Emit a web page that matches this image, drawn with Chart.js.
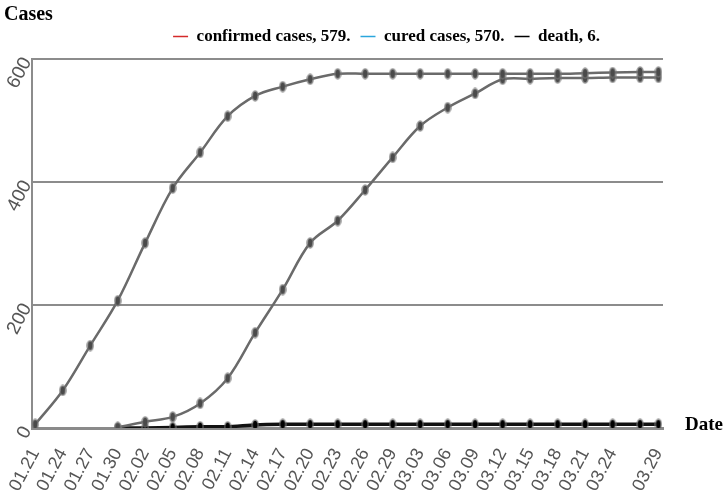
<!DOCTYPE html>
<html>
<head>
<meta charset="utf-8">
<script src="https://cdn.jsdelivr.net/npm/chart.js@4.4.0/dist/chart.umd.min.js"></script>
<style>
  html, body { margin: 0; padding: 0; background: #fff; }
</style>
</head>
<body>
<canvas id="chart" width="725" height="501"></canvas>
<script>
// days after 01.21 for every sample (3-day steps, last one only 2 days)
const dayOffsets = [0, 3, 6, 9, 12, 15, 18, 21, 24, 27, 30, 33, 36, 39, 42, 45, 48, 51, 54, 57, 60, 63, 66, 68];
const confirmed = [6, 61, 134, 207, 301, 390, 448, 507, 540, 555, 567, 576, 576, 576, 576, 576, 576, 576, 576, 576, 577, 578, 579, 579];
const cured = [null, null, null, 1, 10, 18, 40, 81, 155, 225, 301, 337, 387, 440, 491, 521, 544, 567, 568, 569, 569, 570, 570, 570];
const deaths = [null, null, null, 0, 0, 1, 2, 2, 5, 6, 6, 6, 6, 6, 6, 6, 6, 6, 6, 6, 6, 6, 6, 6];

const tickDays = [0, 3, 6, 9, 12, 15, 18, 21, 24, 27, 30, 33, 36, 39, 42, 45, 48, 51, 54, 57, 60, 63, 68];
const tickLabels = ['01.21', '01.24', '01.27', '01.30', '02.02', '02.05', '02.08', '02.11', '02.14', '02.17', '02.20',
  '02.23', '02.26', '02.29', '03.03', '03.06', '03.09', '03.12', '03.15', '03.18', '03.21', '03.24', '03.29'];

const legendNames = ['confirmed cases, 579.', 'cured cases, 570.', 'death, 6.'];
const legendColors = ['#d42a2a', '#2aa6dc', '#000000'];

function makeDot(core, halo) {
  const c = document.createElement('canvas');
  c.width = 8;
  c.height = 12;
  const g = c.getContext('2d');
  g.fillStyle = halo;
  g.beginPath();
  g.ellipse(4, 6, 3.8, 5.8, 0, 0, Math.PI * 2);
  g.fill();
  g.fillStyle = core;
  g.beginPath();
  g.ellipse(4, 6, 2.2, 4.2, 0, 0, Math.PI * 2);
  g.fill();
  return c;
}

const grayDot = makeDot('#4a4a4a', 'rgba(120,120,120,0.75)');
const blackDot = makeDot('#000000', 'rgba(110,110,110,0.7)');

function toPoints(values) {
  return values.map((v, i) => ({ x: dayOffsets[i], y: v }));
}

const extraText = {
  id: 'extraText',
  afterLayout(chart) {
    // move the legend to the right, like the original
    chart.legend.left += 55;
    chart.legend.right += 55;
  },
  afterDraw(chart) {
    const ctx = chart.ctx;
    ctx.save();
    ctx.fillStyle = '#000';
    ctx.textBaseline = 'alphabetic';
    ctx.font = 'bold 20px "Liberation Serif"';
    ctx.fillText('Cases', 4, 20);
    ctx.font = 'bold 19px "Liberation Serif"';
    ctx.fillText('Date', 685, chart.scales.x.top + 2);
    ctx.restore();
  }
};

new Chart(document.getElementById('chart'), {
  type: 'line',
  data: {
    datasets: [
      {
        label: legendNames[0],
        data: toPoints(confirmed),
        borderColor: '#6a6a6a',
        borderWidth: 2.5,
        tension: 0.35,
        pointStyle: grayDot
      },
      {
        label: legendNames[1],
        data: toPoints(cured),
        borderColor: '#6a6a6a',
        borderWidth: 2.5,
        tension: 0.35,
        pointStyle: grayDot
      },
      {
        label: legendNames[2],
        data: toPoints(deaths),
        borderColor: '#111111',
        borderWidth: 3.5,
        tension: 0.2,
        pointStyle: blackDot
      }
    ]
  },
  options: {
    responsive: false,
    animation: false,
    devicePixelRatio: 1,
    layout: { padding: { top: 18, right: 62, left: 0, bottom: 0 } },
    plugins: {
      tooltip: { enabled: false },
      legend: {
        position: 'top',
        labels: {
          usePointStyle: true,
          pointStyleWidth: 15,
          padding: 10,
          color: '#000',
          font: { family: '"Liberation Serif"', size: 17, weight: 'bold' },
          generateLabels: chart => chart.data.datasets.map((ds, i) => ({
            text: ds.label,
            strokeStyle: legendColors[i],
            fillStyle: legendColors[i],
            lineWidth: 1.5,
            pointStyle: 'line',
            hidden: false,
            datasetIndex: i,
            fontColor: '#000'
          }))
        }
      }
    },
    scales: {
      x: {
        type: 'linear',
        min: -0.35,
        max: 68.5,
        afterFit: s => { s.height = 73; s.paddingLeft = 0; s.paddingRight = 0; },
        afterBuildTicks: s => { s.ticks = tickDays.map(v => ({ value: v })); },
        grid: { display: false, drawTicks: false },
        border: { display: true, color: '#8a8a8a', width: 3 },
        ticks: {
          minRotation: 62,
          maxRotation: 62,
          autoSkip: false,
          padding: 17,
          color: '#555',
          font: { family: '"Liberation Sans"', size: 18 },
          callback: v => tickLabels[tickDays.indexOf(v)]
        }
      },
      // empty spacer between legend and plot
      gap: {
        type: 'linear',
        position: 'top',
        afterFit: s => { s.height = 4; },
        grid: { display: false, drawTicks: false },
        border: { display: false },
        ticks: { display: false }
      },
      y: {
        min: 0,
        max: 600,
        afterFit: s => { s.width = 32; },
        grid: { color: '#8c8c8c', lineWidth: 2, drawTicks: false },
        border: { display: true, color: '#8c8c8c', width: 2 },
        ticks: {
          stepSize: 200,
          minRotation: 62,
          maxRotation: 62,
          padding: 5,
          color: '#555',
          font: { family: '"Liberation Sans"', size: 19 }
        }
      }
    }
  },
  plugins: [extraText]
});
</script>
</body>
</html>
